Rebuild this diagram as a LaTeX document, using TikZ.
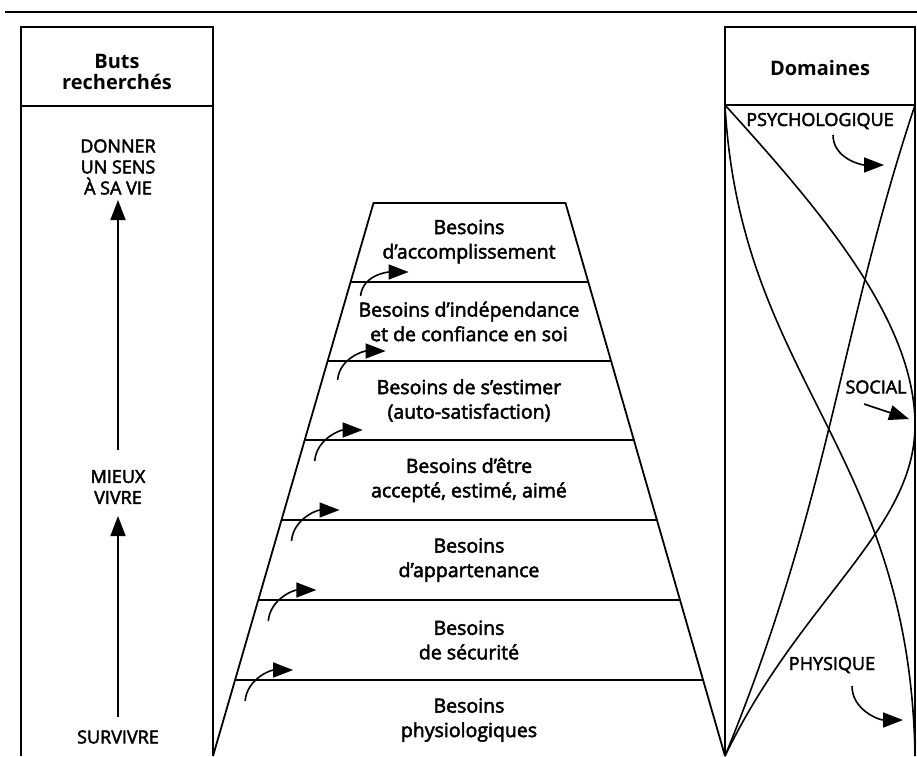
\documentclass[tikz,border=0pt]{standalone}
\usepackage{fontspec}
\setmainfont{Open Sans}[FakeBold=2.5]
\newfontfamily\hdrfont{Open Sans Bold}
\usetikzlibrary{arrows.meta}
\begin{document}
\begin{tikzpicture}[x=1pt,y=-1pt,
  boxline/.style={line width=1.8pt},
  crv/.style={line width=1.6pt},
  head/.style={-{Triangle[length=20pt,width=15pt]}},
  lbl/.style={align=center,inner sep=0pt,font=\fontsize{19.5}{24.5}\selectfont},
  capslbl/.style={align=center,inner sep=0pt,font=\fontsize{18}{21}\selectfont},
  domlbl/.style={align=center,inner sep=0pt,font=\fontsize{18}{21}\selectfont},
  hdr/.style={align=center,inner sep=0pt,font=\hdrfont\fontsize{20}{21}\selectfont}]
\useasboundingbox (0,0) rectangle (917,756);

% rule across the top
\coordinate (ruleL) at (5,12);
\coordinate (ruleR) at (917,12);
\draw[line width=2pt] (ruleL) -- (ruleR);

% ---------- left column: goals ----------
\draw[boxline] (21,756) -- (21,27) -- (213,27) -- (213,756);
\draw[boxline] (21,106) -- (213,106);
\node[hdr] (buts) at (117,72) {Buts\\recherchés};
\node[capslbl] (sens) at (118,167) {DONNER\\UN SENS\\À SA VIE};
\node[capslbl] (mieux) at (118,487) {MIEUX\\VIVRE};
\node[capslbl] (survivre) at (118,737) {SURVIVRE};
\draw[boxline,head] (mieux.north |- 0,450) -- (sens.south |- 0,200);
\draw[boxline,head] (survivre.north |- 0,717) -- (mieux.south |- 0,516);

% ---------- right column: domains ----------
\draw[boxline] (725,756) -- (725,27) -- (915,27) -- (915,756);
\draw[boxline] (725,105) -- (915,105);
\node[hdr] (dom) at (820,68) {Domaines};
\coordinate (TL) at (725,105);
\coordinate (TR) at (915,105);
\coordinate (BL) at (725,756);
\coordinate (BR) at (915,756);
% psychological
\draw[crv] (TL) .. controls (740,380) and (910,450) .. (BR);
% social
\draw[crv] (TL) .. controls (820,210) and (915,320) .. (915,425)
                  .. controls (915,530) and (800,600) .. (BL);
% physical
\draw[crv] (TR) .. controls (840,330) and (830,500) .. (BL);

\node[domlbl] (psy) at (820,121) {PSYCHOLOGIQUE};
\coordinate (psyS) at (833,135);
\coordinate (psyT) at (884,165);
\draw[crv,head] (psyS) to[out=-90,in=180] (psyT);
\node[domlbl] (soc) at (876,387) {SOCIAL};
\coordinate (socS) at (864,404);
\coordinate (socT) at (909,419);
\draw[crv,head] (socS) -- (socT);
\node[domlbl] (phy) at (832,665) {PHYSIQUE};
\coordinate (phyS) at (852,686);
\coordinate (phyT) at (903,720);
\draw[crv,head] (phyS) to[out=-90,in=180] (phyT);

% ---------- pyramid ----------
\draw[boxline] (213,756) -- (373.5,203) -- (565.5,203) -- (725,756);
\foreach \yy/\xl/\xr/\dy [count=\i] in {282/350.6/588.3/14, 361/327.6/611.1/19,
    440/304.7/633.9/21, 520/281.5/656.9/21, 600/258.3/680.0/21, 680/235.1/703.1/21}{
  \coordinate (l\i) at (\xl,\yy);
  \coordinate (r\i) at (\xr,\yy);
  \draw[boxline] (l\i) -- (r\i);
  \coordinate (s\i) at (\xl+10,\yy+\dy);
  \coordinate (t\i) at (\xl+58,\yy-10);
  \draw[crv,head] (s\i) to[out=85,in=180] (t\i);
}
\node[lbl] (n7) at (469,241.5) {Besoins\\d’accomplissement};
\node[lbl] (n6) at (469,321.5) {Besoins d’indépendance\\et de confiance en soi};
\node[lbl] (n5) at (469,400.5) {Besoins de s’estimer\\(auto-satisfaction)};
\node[lbl] (n4) at (469,480) {Besoins d’être\\accepté, estimé, aimé};
\node[lbl] (n3) at (469,560) {Besoins\\d’appartenance};
\node[lbl] (n2) at (469,640) {Besoins\\de sécurité};
\node[lbl] (n1) at (469,720) {Besoins\\physiologiques};
\end{tikzpicture}
\end{document}
